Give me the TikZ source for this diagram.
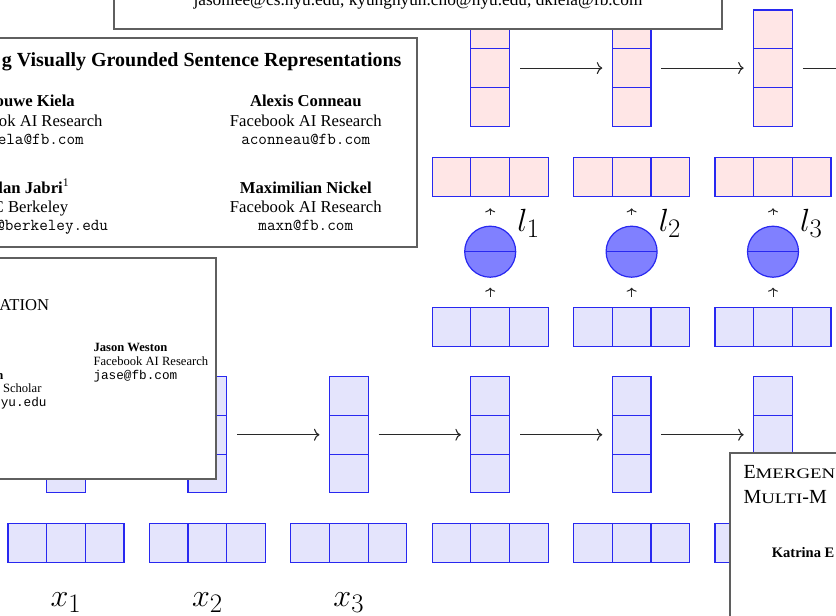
\documentclass[tikz,border=0pt]{standalone}
\usepackage{fontspec}
\newfontfamily\tms{Liberation Serif}
\newfontfamily\cour{Liberation Mono}
\usetikzlibrary{calc,arrows.meta}
\definecolor{cellblue}{RGB}{40,40,240}
\definecolor{pinkfill}{RGB}{255,230,230}
\definecolor{bluefill}{RGB}{228,228,252}
\definecolor{circfill}{RGB}{128,128,255}
\definecolor{panelgray}{RGB}{95,95,95}
\definecolor{arrowgray}{RGB}{40,40,40}
\tikzset{
  cellb/.style={draw=cellblue, fill=bluefill, line width=1.2pt, minimum size=38.7pt, inner sep=0pt, outer sep=0pt},
  cellp/.style={cellb, fill=pinkfill},
  circ/.style={circle, draw=cellblue, fill=circfill, line width=1.2pt, minimum size=51pt, inner sep=0pt, outer sep=0pt},
  flow/.style={-{To[length=5.5pt,width=12pt]}, draw=arrowgray, line width=1.1pt, shorten <=10.5pt, shorten >=10pt},
  tinyarrow/.style={-{To[length=4pt,width=10pt]}, draw=arrowgray, line width=1pt},
  panel/.style={draw=panelgray, fill=white, line width=1.8pt},
  lbl/.style={inner sep=0pt, font=\Huge},
  txt/.style={inner sep=0pt},
  ptitle/.style={txt, font=\tms\bfseries\fontsize{20}{22}\selectfont},
  pname/.style={txt, font=\tms\bfseries\fontsize{16.65}{19}\selectfont},
  paff/.style={txt, font=\tms\fontsize{16.65}{19}\selectfont},
  pmail/.style={txt, font=\ttfamily\fontsize{16.7}{19}\selectfont},
  sname/.style={txt, font=\tms\bfseries\fontsize{12.6}{14}\selectfont},
  saff/.style={txt, font=\tms\fontsize{12.6}{14}\selectfont},
  smail/.style={txt, font=\cour\fontsize{12.7}{14}\selectfont},
}
\newcommand{\bigmath}[1]{\scalebox{1.29}{$#1$}}
\newcommand{\widesc}[1]{\scalebox{1.3}[1]{\fontsize{14.5}{16}\selectfont #1}}
\begin{document}
\begin{tikzpicture}[x=1pt,y=-1pt]
\useasboundingbox (0,0) rectangle (836,616);
\clip (0,0) rectangle (836,616);
\fill[white] (0,0) rectangle (836,616);

% ---------- encoder / decoder columns ----------
\foreach \i in {1,...,6} {
  \pgfmathsetmacro\cx{66+141.4*(\i-1)}
  \node[cellb] (in\i-a) at (\cx-38.7,543) {};
  \node[cellb] (in\i-b) at (\cx,543) {};
  \node[cellb] (in\i-c) at (\cx+38.7,543) {};
  \node[cellb] (v\i-a) at (\cx,396.05) {};
  \node[cellb] (v\i-b) at (\cx,434.75) {};
  \node[cellb] (v\i-c) at (\cx,473.45) {};
}
\foreach \i in {1,2,3} {
  \pgfmathsetmacro\cx{66+141.4*(\i-1)}
  \node[lbl, anchor=base] (x\i) at (\cx,606) {\bigmath{x_{\i}}};
}
\foreach \i/\j in {1/2,2/3,3/4,4/5,5/6}
  \draw[flow] (v\i-b.east) -- (v\j-b.west);

\foreach \i/\k in {4/1,5/2,6/3} {
  \pgfmathsetmacro\cx{66+141.4*(\i-1)}
  \node[cellb] (br\i-a) at (\cx-38.7,327) {};
  \node[cellb] (br\i-b) at (\cx,327) {};
  \node[cellb] (br\i-c) at (\cx+38.7,327) {};
  \node[circ] (c\i) at (\cx,251.7) {};
  \draw[cellblue, line width=1.2pt] (c\i.west) -- (c\i.east);
  \node[cellp] (pr\i-a) at (\cx-38.7,177) {};
  \node[cellp] (pr\i-b) at (\cx,177) {};
  \node[cellp] (pr\i-c) at (\cx+38.7,177) {};
  \node[cellp] (p\i-a) at (\cx,29.35) {};
  \node[cellp] (p\i-b) at (\cx,68.05) {};
  \node[cellp] (p\i-c) at (\cx,106.75) {};
  \draw[tinyarrow, shorten <=11pt, shorten >=10.5pt] (br\i-b.north) -- (c\i.south);
  \draw[tinyarrow, shorten <=11pt, shorten >=12pt] (c\i.north) -- (pr\i-b.south);
  \node[lbl, anchor=base west] (l\k) at (\cx+27,231.7) {\bigmath{l_{\k}}};
}
\coordinate (off7) at (894.7,68.05);
\draw[flow] (p4-b.east) -- (p5-b.west);
\draw[flow] (p5-b.east) -- (p6-b.west);
\draw[flow] (p6-b.east) -- (off7);

% ---------- panel 1 ----------
\draw[panel] (114.3,-10) rectangle (721.7,29.3);
\node[txt, anchor=base, font=\tms\fontsize{17.3}{20}\selectfont] (t1) at (418,5.5)
  {jasonlee@cs.nyu.edu, kyunghyun.cho@nyu.edu, dkiela@fb.com};

% ---------- panel 2 ----------
\draw[panel] (-10,38.3) rectangle (416.7,246.7);
\node[ptitle, anchor=base east] (t2) at (401.7,66.7) {g Visually Grounded Sentence Representations};
\node[pname, anchor=base east] (t3) at (75,106.5) {ouwe Kiela};
\node[paff, anchor=base east] (t4) at (102.7,126) {ok AI Research};
\node[pmail, anchor=base east] (t5) at (84,144) {ela@fb.com};
\node[pname, anchor=base east] (t6) at (69.3,193) {lan Jabri\textsuperscript{\mdseries 1}};
\node[paff, anchor=base east] (t7) at (68.3,212) {C Berkeley};
\node[pmail, anchor=base east] (t8) at (108.3,230) {@berkeley.edu};
\node[pname, anchor=base] (t9) at (305.8,106.5) {Alexis Conneau};
\node[paff, anchor=base] (t10) at (305.8,126) {Facebook AI Research};
\node[pmail, anchor=base] (t11) at (305.8,144) {aconneau@fb.com};
\node[pname, anchor=base] (t12) at (305.8,193) {Maximilian Nickel};
\node[paff, anchor=base] (t13) at (305.8,212) {Facebook AI Research};
\node[pmail, anchor=base] (t14) at (305.8,230) {maxn@fb.com};

% ---------- panel 3 ----------
\draw[panel] (-10,258.3) rectangle (216,479.3);
\node[txt, anchor=base east, font=\tms\fontsize{16.6}{19}\selectfont] (t15) at (49.3,310.7) {ATION};
\node[sname, anchor=base west] (t16) at (93.3,351) {Jason Weston};
\node[saff, anchor=base west] (t17) at (93.3,365) {Facebook AI Research};
\node[smail, anchor=base west] (t18) at (93.3,379) {jase@fb.com};
\node[sname, anchor=base east] (t19) at (3.5,379) {n};
\node[saff, anchor=base east] (t20) at (41.7,392.3) {Scholar};
\node[smail, anchor=base east] (t21) at (46.7,406.7) {yu.edu};

% ---------- panel 4 ----------
\draw[panel] (730,452.7) rectangle (850,630);
\node[txt, anchor=base west, font=\tms\fontsize{20}{22}\selectfont] (t22) at (743.3,478.3)
  {E\widesc{MERGEN}};
\node[txt, anchor=base west, font=\tms\fontsize{20}{22}\selectfont] (t23) at (743.3,503.3)
  {M\widesc{ULTI}-M};
\node[txt, anchor=base west, font=\tms\bfseries\fontsize{14.5}{16}\selectfont] (t24) at (771.7,557.3) {Katrina E};
\end{tikzpicture}
\end{document}
